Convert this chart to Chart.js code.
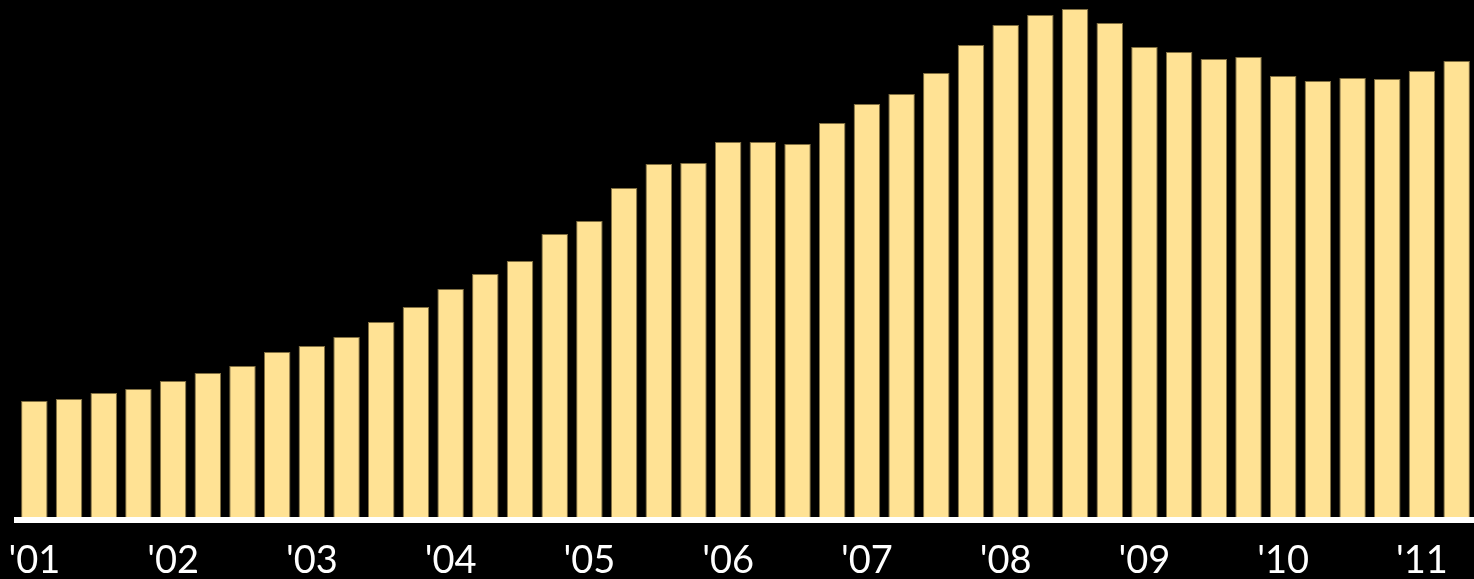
<!DOCTYPE html>
<html>
<head>
<meta charset="utf-8">
<script src="https://cdn.jsdelivr.net/npm/chart.js@4"></script>
<style>
    html, body { margin: 0; padding: 0; background: #000; overflow: hidden; }
    #wrap { width: 1474px; height: 579px; position: relative; }
</style>
</head>
<body>
<div id="wrap"><canvas id="quarterChart"></canvas></div>
<script>
// quarters 2001 Q1 .. 2011 Q2
const quarters = [];
for (let y = 2001; y <= 2011; y++) {
    for (let q = 1; q <= 4; q++) {
        if (y === 2011 && q > 2) break;
        quarters.push(y + ' Q' + q);
    }
}

const values = [
    119, 121, 127, 131,
    139, 147, 154, 168,
    174, 183, 198, 213,
    231, 246, 259, 286,
    299, 332, 356, 357,
    378, 378, 376, 397,
    416, 426, 447, 475,
    495, 505, 511, 497,
    473, 468, 461, 463,
    444, 439, 442, 441,
    449, 459
];

const yearLabels = ["'01", "'02", "'03", "'04", "'05", "'06", "'07", "'08", "'09", "'10", "'11"];

const ctxQuarter = document.getElementById('quarterChart');
new Chart(ctxQuarter, {
    type: 'bar',
    data: {
        labels: quarters,
        datasets: [
            {
                label: '',
                data: values,
                backgroundColor: 'rgba(255, 226, 148, 1)',
                borderColor: 'rgba(130, 112, 66, 1)',
                borderWidth: 1,
                barPercentage: 0.764,
                categoryPercentage: 1
            }
        ]
    },
    options: {
        responsive: true,
        maintainAspectRatio: false,
        animation: false,
        layout: {
            padding: { left: 17, right: 0, top: 0, bottom: 0 }
        },
        plugins: {
            legend: { display: false },
            tooltip: { enabled: false }
        },
        scales: {
            x: {
                grid: { display: false, drawTicks: false },
                border: { display: true, color: 'white', width: 6, z: 1 },
                ticks: {
                    color: 'white',
                    autoSkip: false,
                    maxRotation: 0,
                    padding: 18,
                    font: { family: 'Lato', size: 38 },
                    callback: (val, i) => (i % 4 === 0 ? yearLabels[i / 4] : '')
                },
                afterFit: (scale) => {
                    scale.height = 59;
                    // labels may hang over the edge, don't let them shrink the plot
                    scale.paddingLeft = 0;
                    scale.paddingRight = 0;
                }
            },
            y: {
                display: false,
                min: 0,
                max: 520
            }
        }
    }
});
</script>
</body>
</html>
